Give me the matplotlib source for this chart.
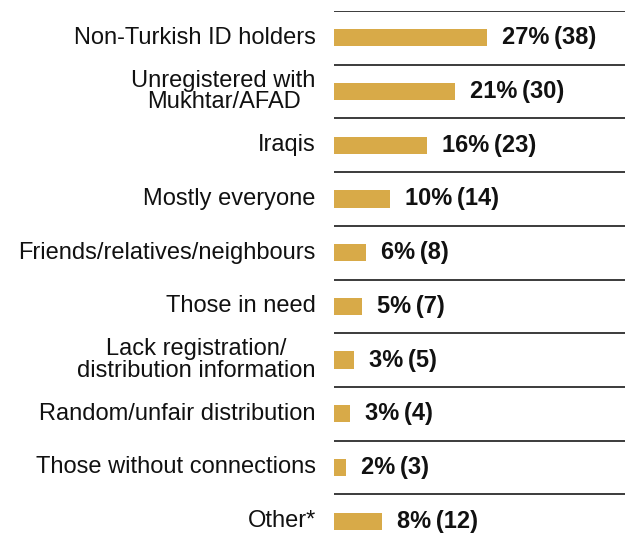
import matplotlib.pyplot as plt
import numpy as np

plt.rcParams['font.family'] = ['Liberation Sans', 'DejaVu Sans']

categories = ['Non-Turkish ID holders', 'Unregistered with\nMukhtar/AFAD', 'Iraqis',
              'Mostly everyone', 'Friends/relatives/neighbours', 'Those in need',
              'Lack registration/\ndistribution information', 'Random/unfair distribution',
              'Those without connections', 'Other*']
percents = [27, 21, 16, 10, 6, 5, 3, 3, 2, 8]
counts = [38, 30, 23, 14, 8, 7, 5, 4, 3, 12]

fig = plt.figure(figsize=(6.25, 5.33), dpi=100)
ax = fig.add_axes([334 / 625, 0, 291 / 625, 522 / 533])

y = np.arange(len(categories))
ax.barh(y, counts, height=0.32, color='#D8AA48', edgecolor='none')

for yi, c, p in zip(y, counts, percents):
    ax.text(c + 3.7, yi, f'{p}%\u2009({c})', va='center', ha='left',
            fontsize=17, fontweight='bold', color='#111111')
    ax.text(-4.5, yi, categories[yi], va='center', ha='right', multialignment='center',
            fontsize=17, color='#111111', linespacing=0.97)

# separator lines between rows
for yi in np.arange(-0.5, len(categories) - 1, 1.0):
    ax.axhline(yi, color='#1a1a1a', linewidth=1.2)

ax.set_xlim(0, 72.2)
ax.set_ylim(9.22, -0.5)
ax.axis('off')

fig.savefig('out.png', dpi=100)
